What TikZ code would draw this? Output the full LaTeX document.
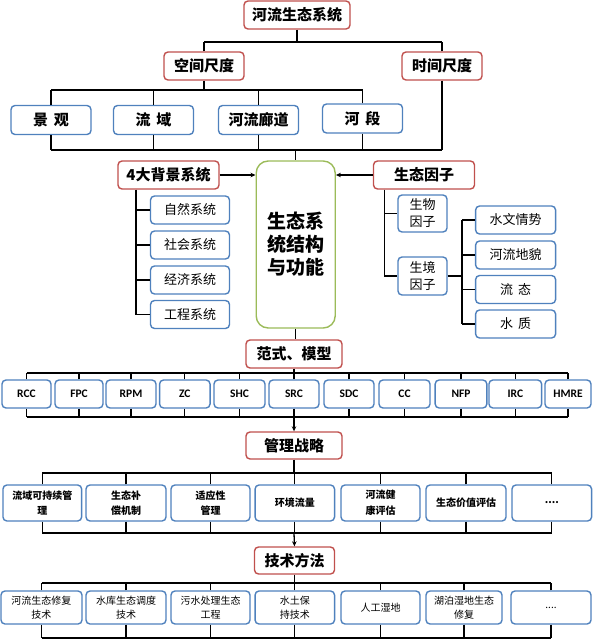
\documentclass[tikz,border=0pt]{standalone}
\usepackage{fontspec}
\setmainfont{Noto Sans CJK SC}
\newfontfamily\latf{Carlito}
\usetikzlibrary{arrows.meta}
\definecolor{bred}{HTML}{C0504D}
\definecolor{bblue}{HTML}{4F81BD}
\definecolor{bgreen}{HTML}{9BBB59}
\begin{document}
\begin{tikzpicture}[x=1pt,y=-1pt,
  base/.style={rounded corners=4pt, line width=1.4pt, fill=white, inner sep=0pt, align=center},
  redbox/.style={base, draw=bred, font=\bfseries\fontsize{15}{18}\selectfont},
  bluebig/.style={base, draw=bblue, font=\bfseries\fontsize{15}{18}\selectfont, minimum width=80pt, minimum height=29pt},
  bluesub/.style={base, draw=bblue, font=\fontsize{13}{17}\selectfont},
  latbox/.style={base, draw=bblue, font=\latf\bfseries\fontsize{11.5}{14}\selectfont, minimum height=28pt},
  rowthree/.style={base, draw=bblue, font=\bfseries\fontsize{10}{15.7}\selectfont, minimum height=36pt},
  rowfour/.style={base, draw=bblue, font=\fontsize{10}{14.5}\selectfont, minimum height=33pt},
  ln/.style={line width=1.3pt, black},
  arr/.style={ln, -{Stealth[length=5pt,width=4.5pt]}}
]
\path[use as bounding box] (0,0) rectangle (592,642);
\coordinate (y42) at (0,42);
\coordinate (y90) at (0,90);
\coordinate (y150) at (0,150);
\coordinate (y373) at (0,373);
\coordinate (y417) at (0,417);
\coordinate (y473) at (0,473);
\coordinate (y533) at (0,533);
\coordinate (y583) at (0,583);
\coordinate (y638) at (0,638);
\coordinate (lt) at (136,0);
\coordinate (rt) at (384.4,0);
\coordinate (rt2) at (462,0);

% top part
\node[redbox, minimum width=106pt, minimum height=28pt] (top) at (297,15) {河流生态系统};
\node[redbox, minimum width=80pt, minimum height=28pt] (sp) at (204,66) {空间尺度};
\node[redbox, minimum width=80pt, minimum height=28pt] (tm) at (442,66) {时间尺度};
\node[bluebig] (jg) at (51,120) {景\hspace{0.4em}观};
\node[bluebig] (ly) at (153.5,120) {流\hspace{0.4em}域};
\node[bluebig] (hl) at (258.5,120) {河流廊道};
\node[bluebig] (hd) at (362.5,118.5) {河\hspace{0.4em}段};

% middle
\node[base, draw=bgreen, rounded corners=12pt, minimum width=79pt, minimum height=167pt, font=\bfseries\fontsize{19}{23}\selectfont] (cb) at (295.7,244.5) {生态系\\统结构\\与功能};
\node[redbox, minimum width=101pt, minimum height=28pt] (bg) at (168.5,175) {4大背景系统};
\node[redbox, minimum width=101pt, minimum height=28pt] (ef) at (424,175) {生态因子};
\node[bluesub, minimum width=79pt, minimum height=28pt] (s1) at (190,210) {自然系统};
\node[bluesub, minimum width=79pt, minimum height=28pt] (s2) at (190,245) {社会系统};
\node[bluesub, minimum width=79pt, minimum height=28pt] (s3) at (190,280) {经济系统};
\node[bluesub, minimum width=79pt, minimum height=28pt] (s4) at (190,314.5) {工程系统};
\node[bluesub, minimum width=49pt, minimum height=37pt] (f1) at (422.5,213.5) {生物\\因子};
\node[bluesub, minimum width=49pt, minimum height=38pt] (f2) at (422.5,276) {生境\\因子};
\node[bluesub, minimum width=80pt, minimum height=28pt] (h1) at (515.6,220) {水文情势};
\node[bluesub, minimum width=80pt, minimum height=28pt] (h2) at (515.6,255) {河流地貌};
\node[bluesub, minimum width=80pt, minimum height=28pt] (h3) at (515.6,289.5) {流\hspace{0.4em}态};
\node[bluesub, minimum width=80pt, minimum height=28pt] (h4) at (515.6,324) {水\hspace{0.4em}质};

% lower headers
\node[redbox, minimum width=96pt, minimum height=28pt] (pm) at (294,354) {范式、模型};
\node[redbox, minimum width=96pt, minimum height=27pt] (ms) at (294,445.5) {管理战略};
\node[redbox, minimum width=80pt, minimum height=27pt] (tech) at (294.5,560.5) {技术方法};

% row 2
\foreach \nm/\cx/\w/\t in {m1/26.5/49/RCC, m2/79/48/FPC, m3/131/50/RPM, m4/184.8/50.5/ZC, m5/239.5/51/SHC, m6/294/50/SRC, m7/349/50/SDC, m8/404.5/51/CC, m9/461/51.7/NFP, m10/515.3/52.7/IRC, m11/568/46/HMRE}
  \node[latbox, minimum width=\w pt] (\nm) at (\cx,394) {\t};

% row 3
\foreach \nm/\cx/\w/\t in {p1/42.3/78.7/{流域可持续管\\理}, p2/126/80/{生态补\\偿机制}, p3/210.5/79/{适应性\\管理}, p4/294.8/79.5/{环境流量}, p5/380.5/79/{河流健\\康评估}, p6/466/80/{生态价值评估}, p7/551.8/79.6/{....}}
  \node[rowthree, minimum width=\w pt] (\nm) at (\cx,503) {\t};

% row 4
\foreach \nm/\cx/\w/\t in {q1/41.5/81/{河流生态修复\\技术}, q2/126/80/{水库生态调度\\技术}, q3/210.5/79/{污水处理生态\\工程}, q4/294.8/79.5/{水土保\\持技术}, q5/380.5/79/{人工湿地}, q6/464/76/{湖泊湿地生态\\修复}, q7/551/80/{....}}
  \node[rowfour, minimum width=\w pt] (\nm) at (\cx,607.5) {\t};

% connectors top
\draw[ln] (top.south) -- (top.south |- y42);
\draw[ln] (sp.north |- y42) -- (tm.north |- y42);
\draw[ln] (sp.north) -- (sp.north |- y42);
\draw[ln] (tm.north) -- (tm.north |- y42);
\draw[ln] (sp.south) -- (sp.south |- y90);
\draw[ln] (jg.north |- y90) -- (hd.north |- y90);
\foreach \n in {jg,ly,hl,hd} {
  \draw[ln] (\n.north) -- (\n.north |- y90);
  \draw[ln] (\n.south) -- (\n.south |- y150);
}
\draw[ln] (jg.south |- y150) -- (tm.south |- y150);
\draw[ln] (tm.south) -- (tm.south |- y150);
\draw[ln] (cb.north |- y150) -- (cb.north);

% middle connectors
\draw[arr] (bg.east) -- (cb.west |- bg.east);
\draw[arr] (ef.west) -- (cb.east |- ef.west);
\draw[ln] (lt |- bg.south) -- (lt |- s4.west);
\foreach \s in {s1,s2,s3,s4} \draw[ln] (lt |- \s.west) -- (\s.west);
\draw[ln] (rt |- ef.south) -- (rt |- f2.west);
\draw[ln] (rt |- f1.west) -- (f1.west);
\draw[ln] (rt |- f2.west) -- (f2.west);
\draw[ln] (f2.east) -- (rt2 |- f2.east);
\draw[ln] (rt2 |- h1.west) -- (rt2 |- h4.west);
\foreach \h in {h1,h2,h3,h4} \draw[ln] (rt2 |- \h.west) -- (\h.west);

% row 2 connectors
\draw[ln] (cb.south) -- (cb.south |- pm.north);
\draw[ln] (pm.south) -- (pm.south |- y373);
\draw[ln] (m1.north |- y373) -- (m11.north |- y373);
\draw[ln] (m1.south |- y417) -- (m11.south |- y417);
\foreach \n in {m1,m2,m3,m4,m5,m6,m7,m8,m9,m10,m11} {
  \draw[ln] (\n.north) -- (\n.north |- y373);
  \draw[ln] (\n.south) -- (\n.south |- y417);
}
\draw[arr] (pm.south |- y417) -- (ms.north);

% row 3 connectors
\draw[ln] (ms.south) -- (ms.south |- y473);
\draw[ln] (p1.north |- y473) -- (p7.north |- y473);
\draw[ln] (p1.south |- y533) -- (p7.south |- y533);
\foreach \n in {p1,p2,p3,p4,p5,p6,p7} {
  \draw[ln] (\n.north) -- (\n.north |- y473);
  \draw[ln] (\n.south) -- (\n.south |- y533);
}
\draw[arr] (ms.south |- y533) -- (tech.north);

% row 4 connectors
\draw[ln] (tech.south) -- (tech.south |- y583);
\draw[ln] (q1.north |- y583) -- (q7.north |- y583);
\draw[ln] (q1.south |- y638) -- (q7.south |- y638);
\foreach \n in {q1,q2,q3,q4,q5,q6,q7} {
  \draw[ln] (\n.north) -- (\n.north |- y583);
  \draw[ln] (\n.south) -- (\n.south |- y638);
}
\end{tikzpicture}
\end{document}
